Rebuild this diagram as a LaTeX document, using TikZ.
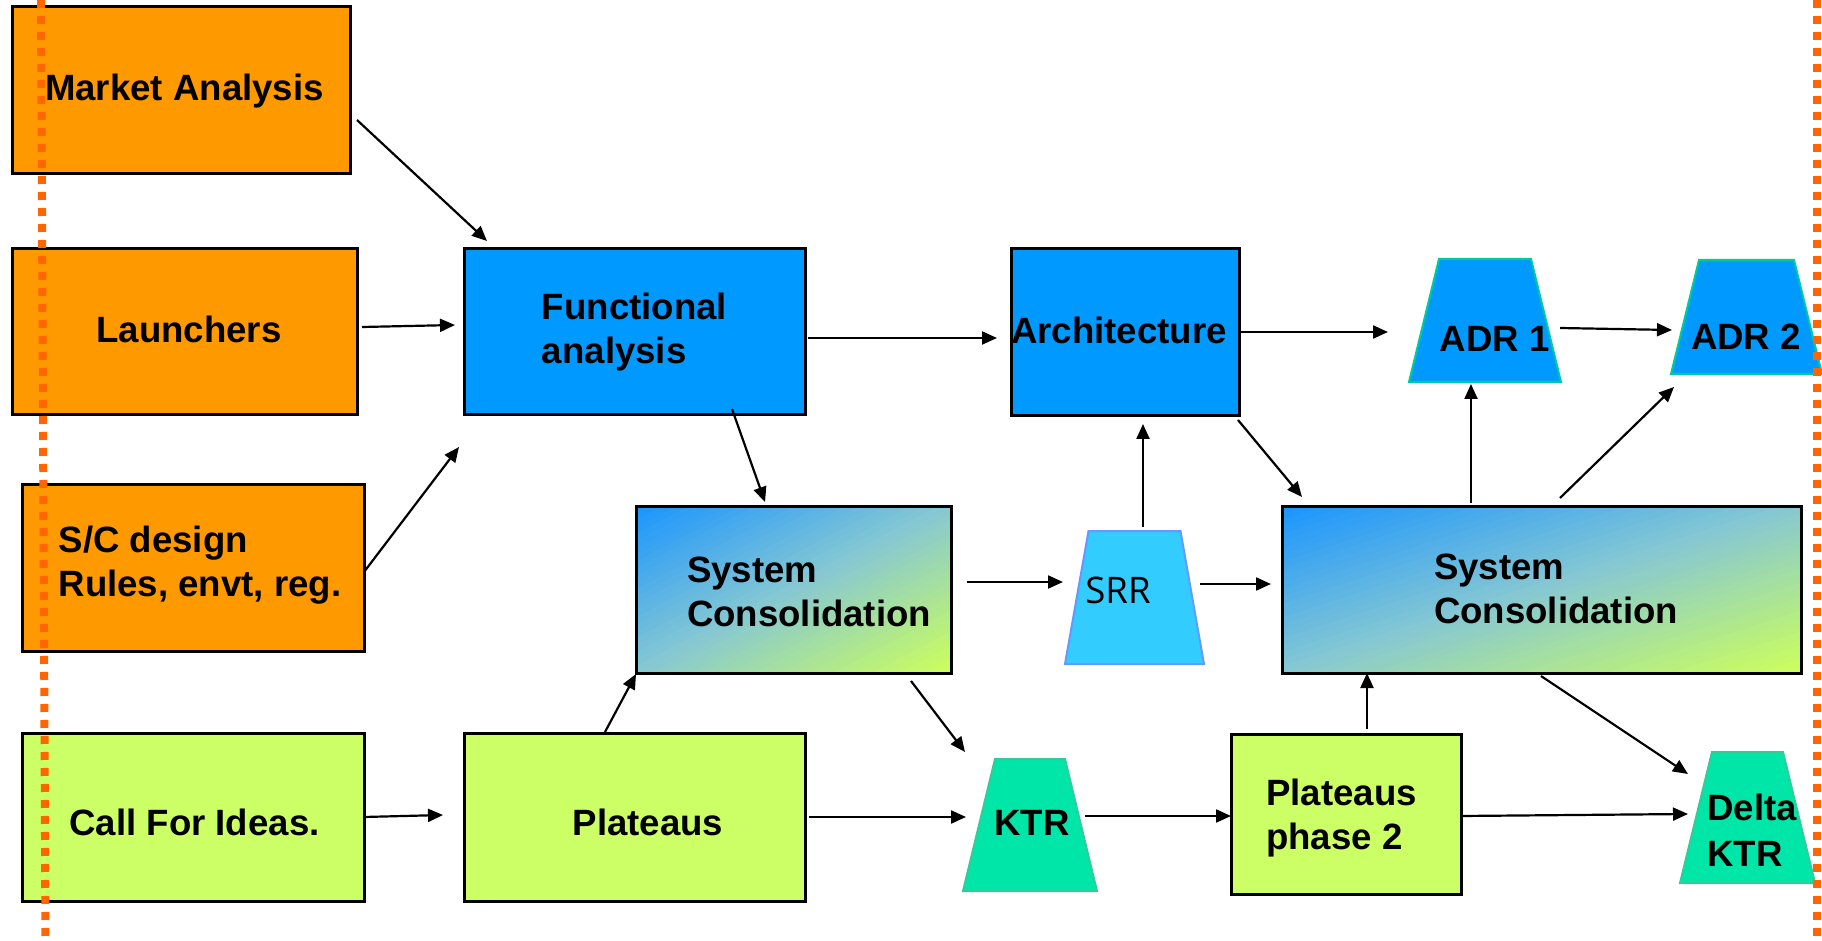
\documentclass[tikz,border=0pt]{standalone}
\usepackage{fontspec}
\setmainfont{Liberation Sans}
\newfontfamily\srrfont{Open Sans}
\usetikzlibrary{arrows.meta}

\definecolor{cOrange}{HTML}{FF9900}
\definecolor{cBlue}{HTML}{0099FF}
\definecolor{cLime}{HTML}{CCFF66}
\definecolor{cSky}{HTML}{33CCFF}
\definecolor{cSkyEdge}{HTML}{6699FF}
\definecolor{cTeal}{HTML}{00E6A8}
\definecolor{cTealEdge}{HTML}{33CC99}
\definecolor{cAdrEdge}{HTML}{00CC99}
\definecolor{cDots}{HTML}{FF6600}
\definecolor{gA}{RGB}{25,148,255}
\definecolor{gM}{RGB}{135,200,210}
\definecolor{gB}{RGB}{205,255,90}

\tikzset{
  box/.style 2 args={rectangle, draw=black, line width=1.5pt, inner sep=0pt,
    outer sep=0pt, minimum width=#1*0.5pt, minimum height=#2*0.5pt},
  frame/.style 2 args={rectangle, inner sep=0pt, outer sep=0pt,
    minimum width=#1*0.5pt, minimum height=#2*0.5pt},
  lbl/.style={font=\fontsize{18.3}{22}\selectfont\bfseries, align=left, inner sep=0pt},
  arr/.style={-{Triangle[length=7.5pt,width=6.5pt]}, line width=1.1pt},
  dotline/.style={draw=cDots, line width=4pt, dash pattern=on 4pt off 4pt}
}

% diagonal blue-to-lime fill of a rectangular node, then its border
% #1 node name, #2 width, #3 height (picture units)
\newcommand\gradpanel[3]{%
  \begin{scope}[shift={(#1.north west)}, xscale=#2, yscale=#3]
    \clip (0,0) rectangle (1,1);
    \foreach \i in {0,...,47}{%
      \pgfmathsetmacro\gpos{(\i+0.5)/48}%
      \ifdim\gpos pt<0.5pt
        \pgfmathsetmacro\gpct{\gpos*200}%
        \colorlet{gcur}{gM!\gpct!gA}%
      \else
        \pgfmathsetmacro\gpct{(\gpos-0.5)*200}%
        \colorlet{gcur}{gB!\gpct!gM}%
      \fi
      \fill[gcur] ({\i/24},0) -- (0,{\i/24}) -- (0,{(\i+1.3)/24}) -- ({(\i+1.3)/24},0) -- cycle;
    }
  \end{scope}
  \draw[line width=1.5pt] (#1.north west) rectangle (#1.south east);
}

% review trapezoid: name, centre x, centre y, base width, height, top inset, fill, edge
\newcommand\trapbox[8]{%
  \node[frame={#4}{#5}] (#1) at (#2,#3) {};
  \filldraw[fill=#7, draw=#8, line width=1pt]
    ([shift={(#6,0)}]#1.north west) -- ([shift={(-#6,0)}]#1.north east)
    -- (#1.south east) -- (#1.south west) -- cycle;
}

\begin{document}
\begin{tikzpicture}[x=0.5pt,y=-0.5pt]

\path[fill=white, use as bounding box] (0,0) rectangle (1822,941);

% input boxes
\node[box={338}{167}, fill=cOrange] (ma)  at (181,90.5)   {};
\node[box={345}{166}, fill=cOrange] (la)  at (184.5,332)  {};
\node[box={342}{167}, fill=cOrange] (sc)  at (193,567.5)  {};
\node[box={342}{168}, fill=cLime]   (cfi) at (193,817)    {};

% analysis chain
\node[box={341}{166}, fill=cBlue]   (fa)  at (634.5,332)  {};
\node[box={228}{167}, fill=cBlue]   (ar)  at (1125,332.5) {};
\node[box={341}{168}, fill=cLime]   (pl)  at (634.5,817)  {};
\node[box={230}{160}, fill=cLime]   (pp2) at (1346,814)   {};

% consolidation boxes with diagonal fill
\node[frame={315}{167}] (cs1) at (793.5,589.5)  {};
\node[frame={519}{167}] (cs2) at (1541.5,589.5) {};
\gradpanel{cs1}{315}{167}
\gradpanel{cs2}{519}{167}

% reviews
\trapbox{adr1}{1485}{320.5}{152}{123}{30}{cBlue}{cAdrEdge}
\trapbox{adr2}{1746.5}{317}{151}{114}{28}{cBlue}{cAdrEdge}
\trapbox{srr}{1134.5}{597.5}{139}{133}{23.5}{cSky}{cSkyEdge}
\trapbox{ktr}{1030}{825}{134}{132}{32}{cTeal}{cTealEdge}
\trapbox{dktr}{1747.5}{817.5}{135}{131}{32}{cTeal}{cTealEdge}

% texts
\node[lbl] (ma-t)   at ([shift={(3.5,1)}]ma.center)     {Market Analysis};
\node[lbl] (la-t)   at ([shift={(4.5,-2.4)}]la.center)  {Launchers};
\node[lbl] (sc-t)   at ([shift={(7,-2)}]sc.center)      {S/C design\\Rules, envt, reg.};
\node[lbl] (cfi-t)  at ([shift={(1.5,5)}]cfi.center)    {Call For Ideas.};
\node[lbl] (fa-t)   at (fa.center)                      {Functional\\analysis};
\node[lbl] (ar-t)   at ([shift={(-6,-2.5)}]ar.center)   {Architecture};
\node[lbl] (pl-t)   at ([shift={(13.5,5)}]pl.center)    {Plateaus};
\node[lbl] (cs1-t)  at ([shift={(15.5,2.5)}]cs1.center) {System\\Consolidation};
\node[lbl] (cs2-t)  at ([shift={(14.5,-0.5)}]cs2.center) {System\\Consolidation};
\node[lbl] (pp2-t)  at ([shift={(-4.5,4)}]pp2.center)   {Plateaus\\phase 2};
\node[lbl] (adr1-t) at ([shift={(9.5,18)}]adr1.center)  {ADR 1};
\node[lbl] (adr2-t) at ([shift={(-0.5,19.5)}]adr2.center) {ADR 2};
\node[lbl, font=\fontsize{18.3}{22}\selectfont\srrfont] (srr-t) at ([shift={(-16.5,-7)}]srr.center) {SRR};
\node[lbl] (ktr-t)  at ([shift={(2,-2.5)}]ktr.center)   {KTR};
\node[lbl, font=\fontsize{18.3}{23}\selectfont\bfseries] (dktr-t) at ([shift={(4.5,12.5)}]dktr.center) {Delta\\KTR};

% connectors
\draw[arr] ([shift={(7,29.5)}]ma.east)     -- ([shift={(23,-8)}]fa.north west);
\draw[arr] ([shift={(5,-5)}]la.east)       -- ([shift={(-9,-7)}]fa.west);
\draw[arr] ([shift={(0,4.5)}]sc.east)      -- ([shift={(-5,32)}]fa.south west);
\draw[arr] (cfi.east)                      -- ([shift={(-21,-2)}]pl.west);
\draw[arr] ([shift={(3,6)}]fa.east)        -- ([shift={(-14,5.5)}]ar.west);
\draw[arr] ([shift={(97.5,-6)}]fa.south)   -- ([shift={(-28.5,-4)}]cs1.north);
\draw[arr] ([shift={(-29.5,-1)}]pl.north)  -- ([shift={(0,1)}]cs1.south west);
\draw[arr] ([shift={(4,0)}]pl.east)        -- ([shift={(-64,-8)}]ktr.center);
\draw[arr] ([shift={(16,-7.5)}]cs1.east)   -- ([shift={(-71.5,-15.5)}]srr.center);
\draw[arr] ([shift={(117.5,8)}]cs1.south)  -- ([shift={(-65,-73)}]ktr.center);
\draw[arr] ([shift={(8.5,-70.5)}]srr.center) -- ([shift={(18,8)}]ar.south);
\draw[arr] ([shift={(65.5,-13.5)}]srr.center) -- ([shift={(-11,-5.5)}]cs2.west);
\draw[arr] ([shift={(0,-0.5)}]ar.east)     -- ([shift={(-97,11.5)}]adr1.center);
\draw[arr] ([shift={(-1,4)}]ar.south east) -- ([shift={(20,-9)}]cs2.north west);
\draw[arr] ([shift={(75,7.5)}]adr1.center) -- ([shift={(-74.5,13)}]adr2.center);
\draw[arr] ([shift={(-70.5,-3)}]cs2.north) -- ([shift={(-14,63.5)}]adr1.center);
\draw[arr] ([shift={(18.5,-8)}]cs2.north)  -- ([shift={(-72.5,70)}]adr2.center);
\draw[arr] ([shift={(55,-9)}]ktr.center)   -- ([shift={(0,2)}]pp2.west);
\draw[arr] ([shift={(21,-5)}]pp2.north)    -- ([shift={(-174.5,0)}]cs2.south);
\draw[arr] ([shift={(0,2)}]pp2.east)       -- ([shift={(-59.5,-3.5)}]dktr.center);
\draw[arr] ([shift={(-0.5,3)}]cs2.south)   -- ([shift={(-59.5,-43.5)}]dktr.center);

% dotted boundary lines
\draw[dotline] (41,0) -- (45.5,940);
\draw[dotline] (1817,0) -- (1817,940);
\end{tikzpicture}
\end{document}
